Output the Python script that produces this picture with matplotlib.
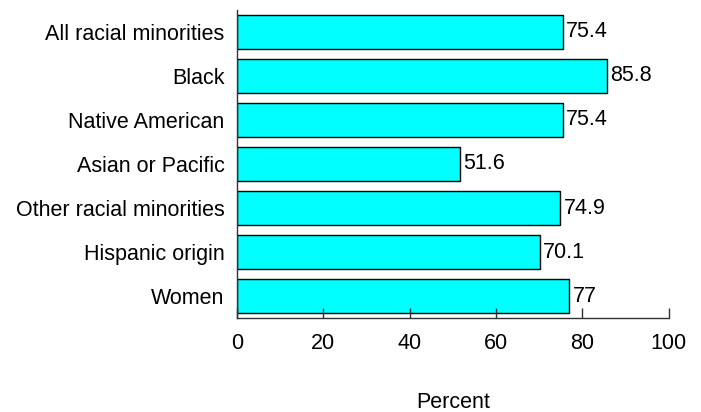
import matplotlib
matplotlib.use("Agg")
import matplotlib.pyplot as plt

categories = ["All racial minorities", "Black", "Native American", "Asian or Pacific",
              "Other racial minorities", "Hispanic origin", "Women"]
values = [75.4, 85.8, 75.4, 51.6, 74.9, 70.1, 77]
value_labels = ["75.4", "85.8", "75.4", "51.6", "74.9", "70.1", "77"]
xticks = [0, 20, 40, 60, 80, 100]

plt.rcParams["font.family"] = ["Liberation Sans", "DejaVu Sans"]
fs = 15.5

fig = plt.figure(figsize=(7.01, 4.12), dpi=100)
ax = fig.add_axes([0.338, 0.228, 0.616, 0.748])

n = len(categories)
ypos = list(range(n - 1, -1, -1))
ax.barh(ypos, values, height=0.78, color="#00FFFF", edgecolor="black", linewidth=1)

for y, v, lab in zip(ypos, values, value_labels):
    ax.text(v + 0.7, y, lab, va="center", ha="left", fontsize=fs)

ax.set_xlim(0, 100)
ax.set_ylim(-0.5, n - 0.5)
ax.set_xticks(xticks)
ax.set_xticklabels([str(t) for t in xticks], fontsize=fs)
ax.set_yticks(ypos)
ax.set_yticklabels(categories, fontsize=fs)
ax.tick_params(axis="y", length=0, pad=9)
ax.tick_params(axis="x", direction="in", length=7, width=1, color="#333333", pad=11)

for s in ["top", "right"]:
    ax.spines[s].set_visible(False)
for s in ["left", "bottom"]:
    ax.spines[s].set_color("#333333")
    ax.spines[s].set_linewidth(1)

ax.set_xlabel("Percent", fontsize=fs, labelpad=27)

fig.savefig("out.png", dpi=100)
